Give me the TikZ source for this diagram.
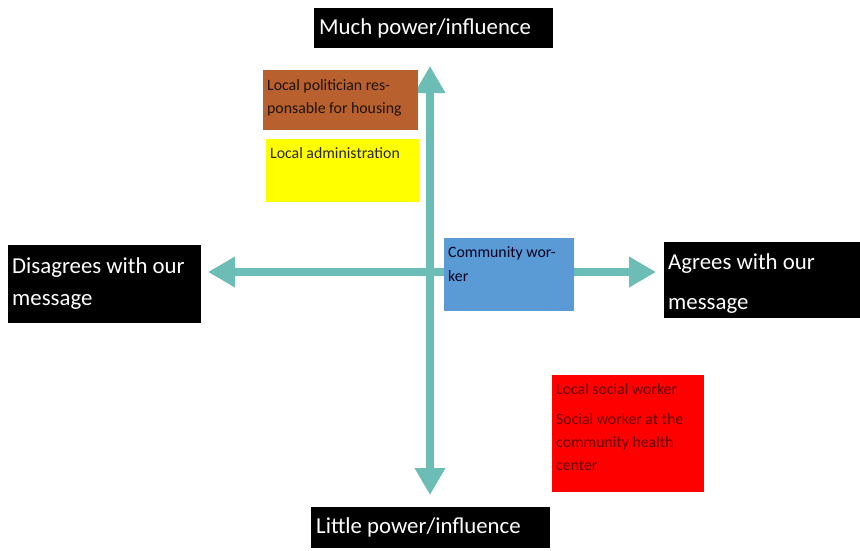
\documentclass[tikz,border=0pt]{standalone}
\usepackage{fontspec}
\setmainfont{Carlito}
\usetikzlibrary{arrows.meta}
\definecolor{axisteal}{HTML}{6CBDB5}
\definecolor{brownbox}{HTML}{B8602E}
\definecolor{bluebox}{HTML}{5B9BD5}
\definecolor{redbox}{HTML}{FF0000}
\definecolor{yellowbox}{HTML}{FFFF00}
\begin{document}
\begin{tikzpicture}[x=1pt,y=-1pt,
  box/.style={draw=none,inner sep=0pt,outer sep=0pt,anchor=north west},
  bigtxt/.style={inner sep=0pt,anchor=base west,text=white,font=\fontsize{22.8}{27}\selectfont},
  smalltxt/.style={inner sep=0pt,anchor=base west,font=\fontsize{15.8}{19}\selectfont},
  axis/.style={draw=axisteal,line width=8pt,{Triangle[width=29pt,length=27pt]}-{Triangle[width=29pt,length=27pt]}}
]
\useasboundingbox (0,0) rectangle (860,550);
\fill[white] (0,0) rectangle (860,550);

% axes
\coordinate (vtop) at (430,66);
\coordinate (vbot) at (430,495);
\coordinate (hleft) at (208,272);
\coordinate (hright) at (656,272);
\draw[axis] (vbot) -- (vtop);
\draw[axis] (hleft) -- (hright);

% black labels
\node[box,fill=black,minimum width=239pt,minimum height=40pt] (topbox) at (314,8) {};
\node[bigtxt] (toptxt) at (319,34) {Much power/influence};
\node[box,fill=black,minimum width=239pt,minimum height=41pt] (botbox) at (311,507) {};
\node[bigtxt] (bottxt) at (316,533) {Little power/influence};
\node[box,fill=black,minimum width=193pt,minimum height=78pt] (leftbox) at (8,245) {};
\node[bigtxt] (lefttxtA) at (12,273) {Disagrees with our};
\node[bigtxt] (lefttxtB) at (12,305) {message};
\node[box,fill=black,minimum width=196pt,minimum height=76pt] (rightbox) at (664,242) {};
\node[bigtxt] (righttxtA) at (668,269) {Agrees with our};
\node[bigtxt] (righttxtB) at (668,309) {message};

% coloured boxes
\node[box,fill=brownbox,minimum width=155pt,minimum height=60pt] (politician) at (263,70) {};
\node[smalltxt,text=black!85!brown] (polA) at (267,90) {Local politician res-};
\node[smalltxt,text=black!85!brown] (polB) at (267,113) {ponsable for housing};

\node[box,fill=yellowbox,minimum width=153pt,minimum height=63pt] (admin) at (266,139) {};
\node[smalltxt,text=black!85] (adminA) at (270,158) {Local administration};

\node[box,fill=bluebox,minimum width=130pt,minimum height=73pt] (community) at (444,238) {};
\node[smalltxt,text=black!70!blue!40!black] (comA) at (448,257) {Community wor-};
\node[smalltxt,text=black!70!blue!40!black] (comB) at (448,281) {ker};

\node[box,fill=redbox,minimum width=152pt,minimum height=117pt] (social) at (552,375) {};
\node[smalltxt,text=black!60!red] (socA) at (556,394) {Local social worker};
\node[smalltxt,text=black!60!red] (socB) at (556,424) {Social worker at the};
\node[smalltxt,text=black!60!red] (socC) at (556,447) {community health};
\node[smalltxt,text=black!60!red] (socD) at (556,470) {center};
\end{tikzpicture}
\end{document}
